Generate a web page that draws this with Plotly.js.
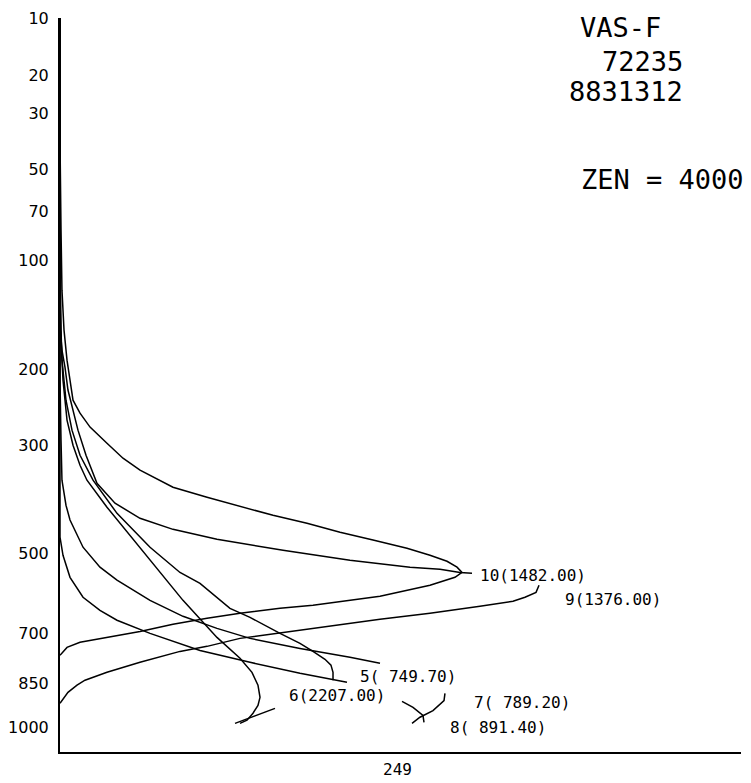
<!DOCTYPE html>
<html>
<head>
<meta charset="utf-8">
<script src="https://cdn.plot.ly/plotly-3.0.1.min.js"></script>
<style>html,body{margin:0;padding:0;background:#fff;}#chart{width:751px;height:783px;}</style>
</head>
<body>
<div id="chart"></div>
<script>
// Pressure tick levels (hPa) and labels
const pressureTicks = [10, 20, 30, 50, 70, 100, 200, 300, 500, 700, 850, 1000];
const pressureTickText = ["10", "20", "30", "50", "70", "100", "200", "300", "500", "700", "850", "1000"];

// Channel 10
const ch10_x = [0, 0, 0.15, 0.29, 0.59, 1.03, 1.47, 1.91, 2.94, 4.41, 6.90, 9.25, 11.75, 14.24, 16.59, 21.59, 26.43, 31.28, 36.27, 41.12, 45.96, 50.95, 54.33, 56.83, 58.30, 59.03, 58.00, 54.33, 46.99, 37.15, 32.31, 26.43, 21.59, 16.59, 11.75, 6.90, 2.94, 1.03, 0];
const ch10_p = [10, 38.5, 80.7, 122.7, 158.1, 189.1, 212, 236.9, 254, 273.5, 297.2, 320.6, 340.2, 355.6, 369.5, 387.6, 404.3, 421.8, 437.6, 455.7, 472, 489.4, 504.8, 518.3, 531.8, 544, 555.4, 574.5, 601.7, 624.8, 632.6, 645.5, 658.8, 675.2, 694.6, 711.4, 725.5, 740.1, 763.5];

// Channel 9 (upper part, gap, lower part)
const ch9_x = [0, 0, 0.05, 0.29, 0.73, 1.17, 1.91, 2.64, 3.82, 5.43, 8.08, 11.75, 16.59, 23.05, 32.75, 42.58, 51.40, 55.80, 58.74, 60.50, null, 70.34, 69.90, 68.28, 66.52, 61.67, 54.33, 46.99, 39.65, 32.31, 26.43, 21.59, 17.62, 11.75, 6.90, 3.67, 2.50, 1.17, 0];
const ch9_p = [10, 64, 158, 178.3, 196.9, 224, 249.9, 277.8, 315.9, 362.5, 398.6, 427.6, 449.7, 470.2, 493.8, 516, 531.8, 536.5, 544, 545.8, null, 574.5, 592, 604.2, 614.4, 627.3, 645.5, 661.6, 680.7, 700.1, 714.2, 737.1, 751.8, 784.4, 815.2, 840, 856, 879.4, 916.2];

// Channel 5
const ch5_x = [0, 0, 0.15, 0.29, 0.88, 1.76, 2.94, 4.85, 8.37, 13.22, 17.62, 20.56, 24.96, 27.90, 32.31, 35.24, 37.15, 38.91, 39.79, 40.09, 40.09];
const ch5_p = [10, 93.3, 158.1, 189.1, 236.9, 277.8, 315.9, 357.2, 417.9, 487.2, 544, 570, 632.6, 656.3, 700.1, 728.5, 751.8, 775.3, 793, 815.2, 840];

// Channel 6 (curve, gap, end stroke)
const ch6_x = [0, 0, 0.15, 0.44, 1.03, 1.91, 2.94, 3.96, 6.90, 10.28, 13.22, 18.06, 23.05, 26.43, 28.19, 29.07, 29.37, 29.07, 28.34, 27.46, 26.43, null, 25.70, 31.57];
const ch6_p = [10, 130, 168, 212, 263.6, 300.2, 332, 357.2, 406.2, 462, 516, 612, 711.4, 772.4, 815.2, 856, 895.9, 923, 950, 974.6, 985.9, null, 985.9, 933.2];

// Channel 7 (curve, gap, end stroke)
const ch7_x = [0, 0, 0.15, 0.29, 0.88, 1.47, 3.38, 5.87, 8.37, 13.22, 18.06, 23.05, 27.90, 35.24, 42.58, 46.99, null, 56.53, 56.39, 54.77, 52.86, 51.69];
const ch7_p = [10, 212, 292.6, 357.2, 402.4, 431, 487.2, 531.8, 562, 612, 653.5, 686.2, 714.2, 743, 769.4, 787.5, null, 882.6, 907, 941, 964.1, 985.9];

// Channel 8 (curve, gap, end stroke)
const ch8_x = [0, 0, 0, 0.44, 1.47, 3.38, 5.87, 8.37, 13.22, 20.56, 27.90, 35.24, 42.14, null, 50.22, 51.84, 53.30, 53.45];
const ch8_p = [10, 393, 465.8, 504.8, 555.4, 604.2, 638, 664, 700.1, 749, 784.4, 818.3, 846.9, null, 909.5, 929.9, 957.5, 982.3];

// End labels
const channelLabels = ["10(1482.00)", "9(1376.00)", "5( 749.70)", "6(2207.00)", "7( 789.20)", "8( 891.40)"];
const headerLines = ["VAS-F", "72235", "8831312", "ZEN = 4000"];
const xAxisLabel = "249";

// Vertical coordinate: pressure^0.286
const K = 0.286;
const T = p => (p === null ? null : Math.pow(p, K));

const series = [
  [ch10_x, ch10_p], [ch9_x, ch9_p], [ch5_x, ch5_p],
  [ch6_x, ch6_p], [ch7_x, ch7_p], [ch8_x, ch8_p]
];
const traces = series.map(([xs, ps]) => ({
  type: 'scatter', mode: 'lines',
  x: xs, y: ps.map(T),
  line: {color: '#000', width: 1.5},
  connectgaps: false, showlegend: false, hoverinfo: 'skip'
}));

const mono = 'DejaVu Sans Mono, monospace';
const annotations = [];
const labelPos = [[0.6138, 0.2398], [0.7386, 0.2071], [0.4376, 0.1022], [0.3333, 0.0763], [0.6050, 0.0681], [0.5698, 0.0327]];
channelLabels.forEach((t, i) => annotations.push({
  text: t, xref: 'paper', yref: 'paper', x: labelPos[i][0], y: labelPos[i][1],
  xanchor: 'left', yanchor: 'middle', showarrow: false,
  font: {family: mono, size: 16, color: '#000'}
}));
const headPos = [[0.7606, 0.9877], [0.7930, 0.9414], [0.7445, 0.8992], [0.7621, 0.7793]];
headerLines.forEach((t, i) => annotations.push({
  text: t, xref: 'paper', yref: 'paper', x: headPos[i][0], y: headPos[i][1],
  xanchor: 'left', yanchor: 'middle', showarrow: false,
  font: {family: mono, size: 27, color: '#000'}
}));
annotations.push({
  text: xAxisLabel, xref: 'paper', yref: 'paper', x: 0.4949, y: -0.0245,
  xanchor: 'center', yanchor: 'middle', showarrow: false,
  font: {family: mono, size: 16, color: '#000'}
});

const layout = {
  width: 751, height: 783,
  margin: {l: 60, r: 10, t: 18, b: 31},
  paper_bgcolor: '#fff', plot_bgcolor: '#fff',
  showlegend: false,
  xaxis: {
    range: [0, 100], showgrid: false, zeroline: false,
    showline: true, linecolor: '#000', linewidth: 2,
    showticklabels: false, ticks: ''
  },
  yaxis: {
    range: [T(1092), T(10)], showgrid: false, zeroline: false,
    showline: true, linecolor: '#000', linewidth: 2,
    tickmode: 'array', tickvals: pressureTicks.map(T), ticktext: pressureTickText,
    ticks: 'outside', ticklen: 6, tickcolor: 'rgba(0,0,0,0)',
    tickfont: {family: 'DejaVu Sans, sans-serif', size: 16, color: '#000'}
  },
  annotations: annotations
};

Plotly.newPlot('chart', traces, layout, {staticPlot: true, displayModeBar: false});
</script>
</body>
</html>
